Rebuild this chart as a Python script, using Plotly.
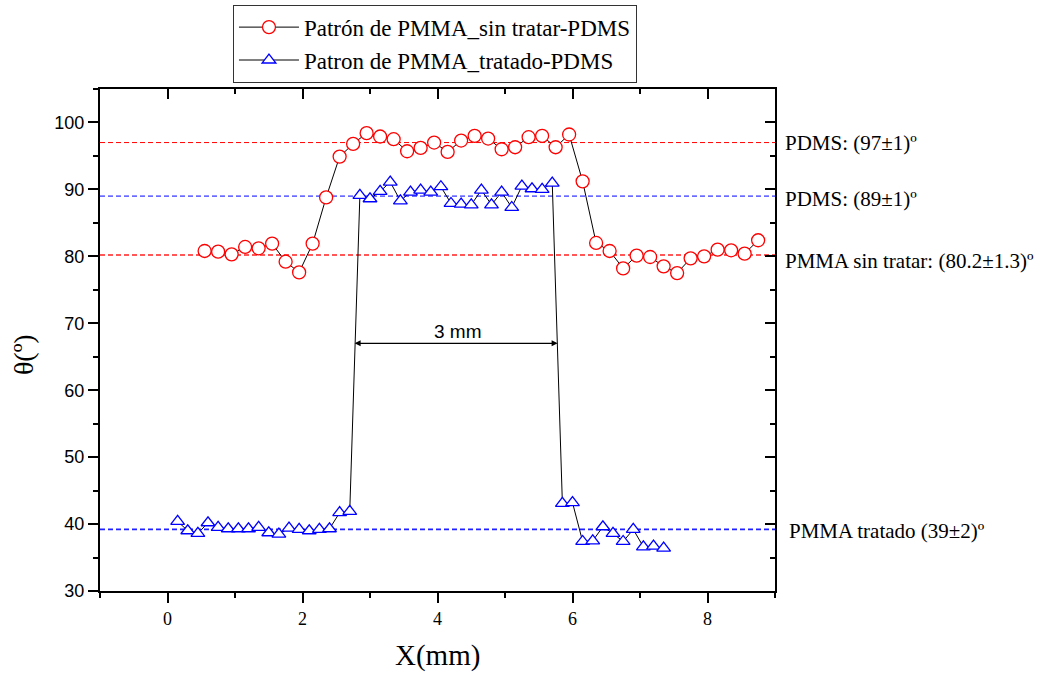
import plotly.graph_objects as go

# ---------------- data ----------------
x_red = [0.55, 0.75, 0.95, 1.15, 1.35, 1.55, 1.75, 1.95, 2.15, 2.35, 2.55, 2.75,
         2.95, 3.15, 3.35, 3.55, 3.75, 3.95, 4.15, 4.35, 4.55, 4.75, 4.95, 5.15,
         5.35, 5.55, 5.75, 5.95, 6.15, 6.35, 6.55, 6.75, 6.95, 7.15, 7.35, 7.55,
         7.75, 7.95, 8.15, 8.35, 8.55, 8.75]
y_red = [80.8, 80.7, 80.3, 81.4, 81.2, 81.9, 79.2, 77.6, 81.9, 88.8, 94.9, 96.8,
         98.4, 97.9, 97.5, 95.7, 96.2, 97.0, 95.6, 97.3, 98.0, 97.6, 96.0, 96.3,
         97.8, 98.0, 96.3, 98.2, 91.2, 82.0, 80.8, 78.2, 80.1, 79.9, 78.5, 77.5,
         79.7, 80.0, 81.0, 80.9, 80.4, 82.4]

x_blue = [0.15, 0.30, 0.45, 0.60, 0.75, 0.90, 1.05, 1.20, 1.35, 1.50, 1.65, 1.80,
          1.95, 2.10, 2.25, 2.40, 2.55, 2.70, 2.85, 3.00, 3.15, 3.30, 3.45, 3.60,
          3.75, 3.90, 4.05, 4.20, 4.35, 4.50, 4.65, 4.80, 4.95, 5.10, 5.25, 5.40,
          5.55, 5.70, 5.85, 6.00, 6.15, 6.30, 6.45, 6.60, 6.75, 6.90, 7.05, 7.20,
          7.35]
y_blue = [40.4, 39.0, 38.6, 40.2, 39.5, 39.3, 39.3, 39.3, 39.5, 38.7, 38.5, 39.4,
          39.2, 39.0, 39.2, 39.3, 41.7, 41.9, 89.1, 88.6, 89.7, 91.1, 88.3, 89.6,
          89.9, 89.6, 90.4, 87.9, 87.8, 87.7, 89.9, 87.7, 89.6, 87.3, 90.5, 90.1,
          90.0, 90.95, 43.1, 43.2, 37.4, 37.5, 39.6, 38.6, 37.4, 39.2, 36.6, 36.7,
          36.4]

series_names = ["Patrón de PMMA_sin tratar-PDMS", "Patron de PMMA_tratado-PDMS"]

ref_values = [97.0, 89.0, 80.2, 39.2]
ref_colors = ["#FF0000", "#0000FF", "#FF2020", "#2020FF"]
ref_widths = [1.0, 1.0, 1.6, 1.6]
ref_labels = ["PDMS: (97±1)º", "PDMS: (89±1)º",
              "PMMA sin tratar: (80.2±1.3)º", "PMMA tratado (39±2)º"]
ref_label_y = [97.0, 88.6, 79.3, 39.0]
ref_label_x = [1.0125, 1.0125, 1.0125, 1.0185]

x_range = [-1, 9]
y_range = [30, 105]

arrow_x = [2.75, 5.78]
arrow_y = 67.0
arrow_text = "3 mm"

SERIF = "Liberation Serif"
SANS = "Liberation Sans"

fig = go.Figure()

# reference dashed lines (bottom/left axes, drawn underneath)
for v, c, w in zip(ref_values, ref_colors, ref_widths):
    fig.add_trace(go.Scatter(
        x=x_range, y=[v, v], mode="lines",
        line=dict(color=c, width=w, dash="5px,3px"),
        showlegend=False, hoverinfo="skip"))

# measured series (on the overlaying top/right axes, same ranges)
fig.add_trace(go.Scatter(
    x=x_red, y=y_red, mode="lines+markers", name=series_names[0],
    xaxis="x2", yaxis="y2",
    line=dict(color="black", width=1),
    marker=dict(symbol="circle", size=13, color="white",
                line=dict(color="#FF0000", width=1.3))))

fig.add_trace(go.Scatter(
    x=x_blue, y=y_blue, mode="lines+markers", name=series_names[1],
    xaxis="x2", yaxis="y2",
    line=dict(color="black", width=1),
    marker=dict(symbol="triangle-up", size=12, color="white",
                line=dict(color="#0000FF", width=1.3))))

axis_common = dict(showgrid=False, zeroline=False, showline=True,
                   linecolor="black", linewidth=2, ticklen=10, tickwidth=2,
                   tickcolor="black")

fig.update_layout(
    width=1040, height=673,
    margin=dict(l=100, r=265, t=89, b=82, autoexpand=False),
    paper_bgcolor="white", plot_bgcolor="white",
    xaxis=dict(range=x_range, ticks="outside", tick0=0, dtick=2,
               tickfont=dict(family=SERIF, size=18, color="black"),
               minor=dict(ticks="outside", ticklen=5, tickwidth=2, tick0=0,
                          dtick=1, tickcolor="black"),
               **axis_common),
    yaxis=dict(range=y_range, ticks="outside", tick0=30, dtick=10,
               tickfont=dict(family=SANS, size=18, color="black"),
               minor=dict(ticks="outside", ticklen=5, tickwidth=2, tick0=30,
                          dtick=5, tickcolor="black"),
               **axis_common),
    xaxis2=dict(range=x_range, overlaying="x", side="top", anchor="y2",
                ticks="inside", tick0=0, dtick=2, showticklabels=False,
                minor=dict(ticks="inside", ticklen=5, tickwidth=2, tick0=0,
                           dtick=1, tickcolor="black"),
                **axis_common),
    yaxis2=dict(range=y_range, overlaying="y", side="right", anchor="x2",
                ticks="inside", tick0=30, dtick=10, showticklabels=False,
                minor=dict(ticks="inside", ticklen=5, tickwidth=2, tick0=30,
                           dtick=5, tickcolor="black"),
                **axis_common),
    legend=dict(x=0.197, y=1.168, xanchor="left", yanchor="top",
                bgcolor="white", bordercolor="#333333", borderwidth=1,
                font=dict(family=SERIF, size=23, color="black"),
                itemwidth=60),
    showlegend=True,
)

annotations = []
for lab, ly, lx in zip(ref_labels, ref_label_y, ref_label_x):
    annotations.append(dict(text=lab, xref="paper", yref="y", x=lx, y=ly,
                            xanchor="left", yanchor="middle", showarrow=False,
                            font=dict(family=SERIF, size=21, color="black")))

# double arrow 3 mm
annotations.append(dict(x=arrow_x[1], y=arrow_y, ax=arrow_x[0], ay=arrow_y,
                        xref="x", yref="y", axref="x", ayref="y", text="",
                        showarrow=True, arrowside="end+start", arrowhead=2,
                        startarrowhead=2, arrowsize=1, startarrowsize=1,
                        arrowwidth=1.2, arrowcolor="black"))
annotations.append(dict(text=arrow_text, x=4.31, y=68.7, xref="x", yref="y",
                        showarrow=False, xanchor="center", yanchor="middle",
                        font=dict(family=SANS, size=19, color="black")))
# axis titles
annotations.append(dict(text="X(mm)", xref="paper", yref="paper", x=0.5,
                        y=-0.1275, xanchor="center", yanchor="middle",
                        showarrow=False,
                        font=dict(family=SERIF, size=29, color="black")))
annotations.append(dict(text="θ(º)", xref="paper", yref="paper", x=-0.114,
                        y=0.47, xanchor="center", yanchor="middle",
                        textangle=-90, showarrow=False,
                        font=dict(family=SERIF, size=28, color="black")))
fig.update_layout(annotations=annotations)

fig.write_html("out.html")
